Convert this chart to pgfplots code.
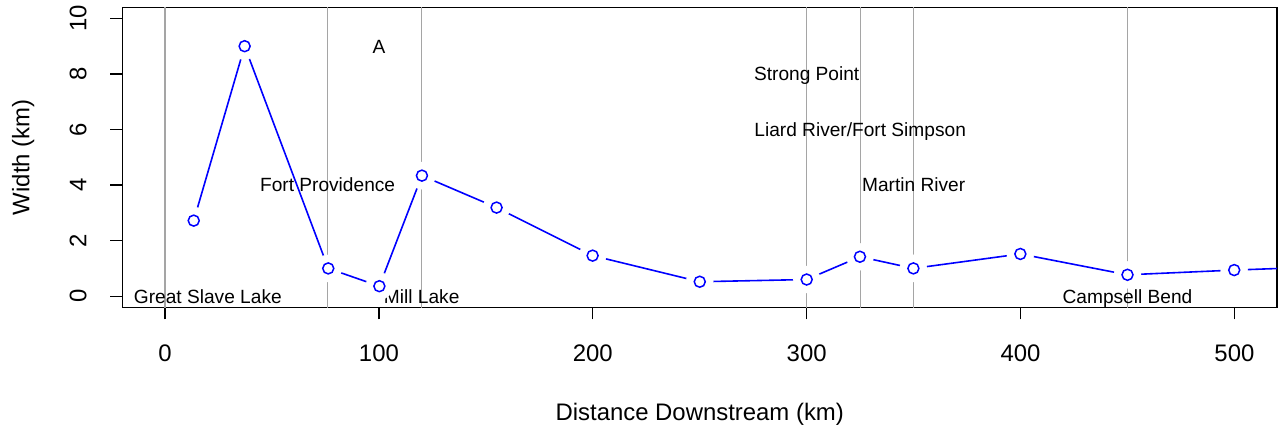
\documentclass[border=0pt]{standalone}
\usepackage{pgfplots}
\pgfplotsset{compat=1.18}
\usepackage{pgfplotstable}
\usepackage{fontspec}
\setmainfont{Liberation Sans}

\definecolor{vline}{RGB}{165,165,165}
\definecolor{rblue}{RGB}{0,0,255}

% river width along the channel
\pgfplotstableread{
x y
13.4 2.72
37.2 9.0
76.3 1.0
100.2 0.36
120.1 4.34
155.0 3.19
199.9 1.46
250.0 0.52
300.0 0.60
324.9 1.42
349.9 1.00
399.9 1.52
450.0 0.77
499.9 0.94
550.0 1.08
}\widthdata

\newcommand{\axfont}{\fontsize{24}{28}\selectfont}
\newcommand{\txfont}{\fontsize{19.2}{23}\selectfont}

\begin{document}
\begin{tikzpicture}
\begin{axis}[name=ax,
scale only axis,
width=1155bp, height=300bp,
xmin=-20, xmax=520, ymin=-0.4, ymax=10.4,
xtick={0,100,200,300,400,500},
ytick={0,2,4,6,8,10},
xtick pos=bottom, ytick pos=left,
tick align=outside,
major tick length=12bp,
tick style={black, line width=1.3bp},
axis line style={line width=1.5bp},
/pgf/number format/assume math mode=true,
ticklabel style={font=\axfont},
xticklabel style={anchor=base, inner sep=0pt, yshift=-42bp},
yticklabel style={rotate=90, anchor=base, inner sep=0pt},
yticklabel shift=24bp,
xlabel={Distance Downstream (km)},
ylabel={Width (km)},
every axis x label/.style={at={(axis description cs:0.5,-0.377)}, anchor=base, font=\axfont},
every axis y label/.style={at={(axis description cs:-0.0805,0.5)}, rotate=90, anchor=base, font=\axfont},
unbounded coords=jump,
]
% connecting line, with gaps round the points
\addplot[rblue, line width=1.6bp] table {\widthdata};
\addplot[white, only marks, mark=*, mark size=13.5bp, mark options={fill=white, draw=white}] table {\widthdata};
% reference lines
\addplot[vline, line width=1.3bp] coordinates {
(0,-1) (0,11) (0,nan)
(76,-1) (76,11) (76,nan)
(120,-1) (120,11) (120,nan)
(300,-1) (300,11) (300,nan)
(325,-1) (325,11) (325,nan)
(350,-1) (350,11) (350,nan)
(450,-1) (450,11)
};
\addplot[only marks, mark=o, mark size=5.5bp, rblue, mark options={line width=1.5bp}] table {\widthdata};
% place names
\begin{scope}[every node/.style={font=\txfont, anchor=base, inner sep=0pt, yshift=-6.9bp}]
\node at (axis cs:20,0) {Great Slave Lake};
\node at (axis cs:76,4) {Fort Providence};
\node at (axis cs:100,9) {A};
\node at (axis cs:120,0) {Mill Lake};
\node at (axis cs:300,8) {Strong Point};
\node at (axis cs:325,6) {Liard River/Fort Simpson};
\node at (axis cs:350,4) {Martin River};
\node at (axis cs:450,0) {Campsell Bend};
\end{scope}
\end{axis}
\pgfresetboundingbox
\path (ax.south west) ++(-122.3bp,-121.5bp);
\path (ax.north east) ++(4.8bp,7.3bp);
\end{tikzpicture}
\end{document}
